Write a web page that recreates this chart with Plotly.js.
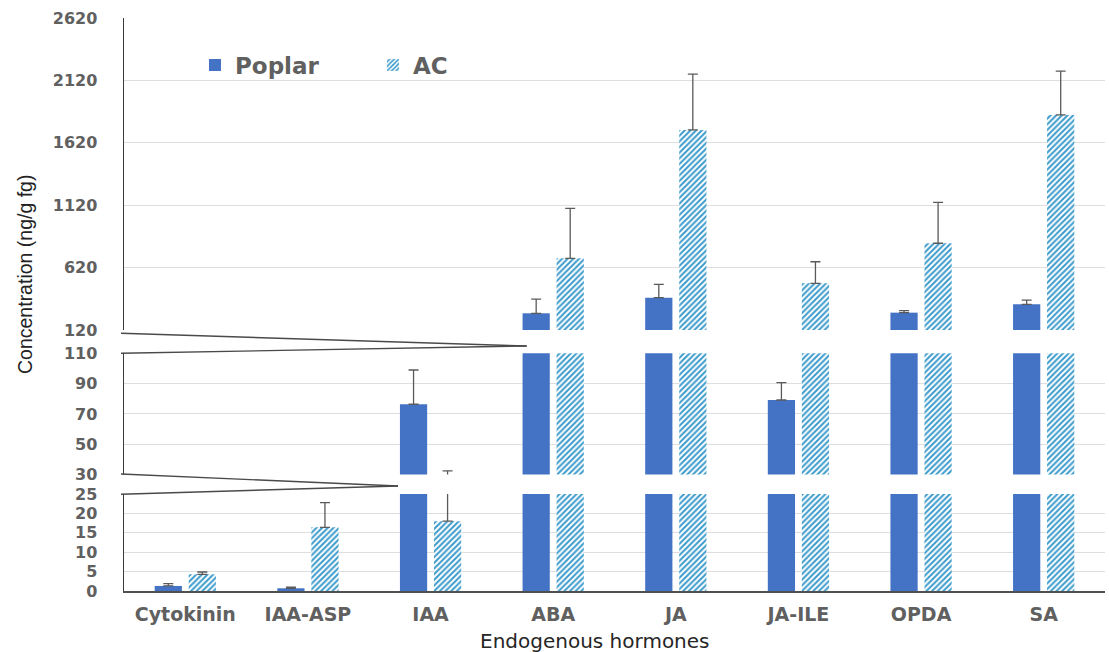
<!DOCTYPE html>
<html>
<head>
<meta charset="utf-8">
<script src="https://cdn.plot.ly/plotly-3.0.1.min.js"></script>
<style>
html,body{margin:0;padding:0;background:#fff;}
#chart{width:1109px;height:652px;}
</style>
</head>
<body>
<div id="chart"></div>
<script>
// ---- data ----
const categories = ['Cytokinin', 'IAA-ASP', 'IAA', 'ABA', 'JA', 'JA-ILE', 'OPDA', 'SA'];
const poplarValues = [1.3, 0.7, 76.4, 254, 379, 79.2, 259, 326];
const poplarErrors = [0.6, 0.3, 22.6, 114, 107, 11.4, 16, 34];
const acValues = [4.3, 16.4, 18.0, 694, 1723, 494, 815, 1843];
const acErrors = [0.6, 6.4, 14.4, 401, 448, 173, 328, 352];
const seriesNames = ['Poplar', 'AC'];

// broken axis segments (bottom, middle, top)
const segRanges = [[0, 25], [30, 110], [120, 2620]];
const segTick0 = [0, 30, 120];
const segDtick = [5, 20, 500];

// ---- styling ----
const poplarColor = '#4472C4';
const acStripe = '#3C9BCB';
const tickGray = '#606060';
const errColor = '#5a5a5a';

const W = 1109, H = 652;
const margin = {l: 124, r: 4, t: 18, b: 61};
const plotH = H - margin.t - margin.b;
const plotW = W - margin.l - margin.r;
const py = p => (H - margin.b - p) / plotH;   // pixel y -> paper y
const px = p => (p - margin.l) / plotW;       // pixel x -> paper x

const domains = [[0, py(494)], [py(474.6), py(353.3)], [py(330), 1]];
const yNames = ['y3', 'y2', 'y'];

const traces = [];
yNames.forEach((yn, i) => {
  traces.push({
    type: 'bar', name: seriesNames[0], x: categories, y: poplarValues,
    xaxis: 'x', yaxis: yn, showlegend: i === 2,
    marker: {color: poplarColor, line: {width: 0}},
    error_y: {type: 'data', symmetric: false, array: poplarErrors,
      arrayminus: poplarValues.map(() => 0), color: errColor, thickness: 1.3, width: 5},
    hoverinfo: 'skip'
  });
  traces.push({
    type: 'bar', name: seriesNames[1], x: categories, y: acValues,
    xaxis: 'x', yaxis: yn, showlegend: i === 2,
    marker: {color: '#ffffff', line: {width: 0},
      pattern: {shape: '/', fgcolor: acStripe, bgcolor: '#ffffff', size: 4, solidity: 0.5, fillmode: 'replace'}},
    error_y: {type: 'data', symmetric: false, array: acErrors,
      arrayminus: acValues.map(() => 0), color: errColor, thickness: 1.3, width: 5},
    hoverinfo: 'skip'
  });
});

const tickFont = {family: 'DejaVu Sans', size: 16, color: tickGray, weight: 'bold'};
function yAxis(i) {
  return {
    domain: domains[i], range: segRanges[i], anchor: 'x',
    tickmode: 'linear', tick0: segTick0[i], dtick: segDtick[i],
    showgrid: true, gridcolor: '#dedede', gridwidth: 1,
    zeroline: false, showline: true, linecolor: '#3a3a3a', linewidth: 1.5,
    ticks: '', tickfont: tickFont, ticklabelstandoff: 22, fixedrange: true
  };
}

const wedgeLine = {color: '#4a4a4a', width: 1.4};
const shapes = [
  {type: 'line', xref: 'paper', yref: 'paper', x0: px(121), y0: py(333.3), x1: px(526.7), y1: py(346), line: wedgeLine},
  {type: 'line', xref: 'paper', yref: 'paper', x0: px(121), y0: py(353.3), x1: px(526.7), y1: py(346), line: wedgeLine},
  {type: 'line', xref: 'paper', yref: 'paper', x0: px(121), y0: py(474), x1: px(398), y1: py(486), line: wedgeLine},
  {type: 'line', xref: 'paper', yref: 'paper', x0: px(121), y0: py(494.3), x1: px(398), y1: py(486), line: wedgeLine}
];

const layout = {
  width: W, height: H, margin: margin,
  paper_bgcolor: '#ffffff', plot_bgcolor: 'rgba(0,0,0,0)',
  barmode: 'group', bargap: 0.445, bargroupgap: 0.2,
  xaxis: {
    type: 'category', anchor: 'y3', domain: [0, 1],
    showline: true, linecolor: '#505050', linewidth: 1.5,
    ticks: '', showgrid: false, ticklabelstandoff: 6,
    tickfont: {family: 'DejaVu Sans', size: 19, color: tickGray, weight: 'bold'},
    fixedrange: true
  },
  yaxis: yAxis(2), yaxis2: yAxis(1), yaxis3: yAxis(0),
  showlegend: true,
  legend: {
    orientation: 'h', x: px(195), y: py(65), xanchor: 'left', yanchor: 'middle',
    xref: 'paper', yref: 'paper', entrywidth: 133, entrywidthmode: 'pixels',
    font: {family: 'DejaVu Sans', size: 23, color: tickGray, weight: 'bold'},
    bgcolor: 'rgba(0,0,0,0)', borderwidth: 0
  },
  shapes: shapes,
  annotations: [
    {text: 'Concentration (ng/g fg)', xref: 'paper', yref: 'paper', x: px(25), y: py(275),
      textangle: -90, showarrow: false, xanchor: 'center', yanchor: 'middle',
      font: {family: 'Liberation Sans', size: 19.5, color: '#222222'}},
    {text: 'Endogenous hormones', xref: 'paper', yref: 'paper', x: px(595), y: py(640.5),
      showarrow: false, xanchor: 'center', yanchor: 'middle',
      font: {family: 'DejaVu Sans', size: 20, color: '#262626'}}
  ]
};

Plotly.newPlot('chart', traces, layout, {displayModeBar: false, staticPlot: true});
</script>
</body>
</html>
